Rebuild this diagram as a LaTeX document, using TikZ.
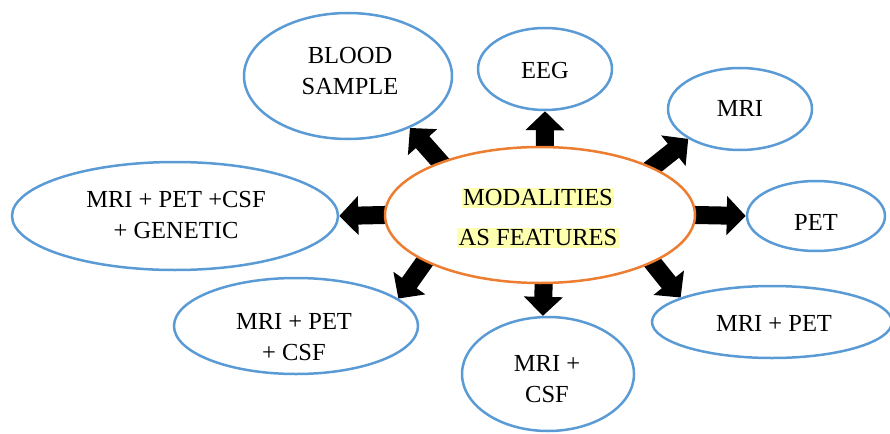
\documentclass[tikz,border=0pt]{standalone}
\usepackage{fontspec}
\setmainfont{Liberation Serif}
\usetikzlibrary{shapes.geometric,arrows.meta,backgrounds}
\definecolor{bblue}{HTML}{5B9BD5}
\definecolor{borange}{HTML}{ED7D31}
\definecolor{glow}{HTML}{FFFFB0}
\newcommand\glowtext[1]{{\setlength{\fboxsep}{1.5pt}\colorbox{glow}{#1}}}
\begin{document}
\begin{tikzpicture}[x=1pt,y=-1pt,
  bub/.style={ellipse,draw=bblue,line width=2.5pt,fill=white,inner sep=0pt},
  hub/.style={ellipse,draw=borange,line width=2.5pt,fill=white,inner sep=0pt},
  lbl/.style={align=center,inner sep=0pt,font=\fontsize{24.5}{31}\selectfont},
  blk/.style={line width=18pt,-{Triangle[width=38pt 0 0,length=19pt 0 0]},shorten <=-12pt}]
\useasboundingbox (0,0) rectangle (890,433);

% ellipses
\node[hub,minimum width=310pt,minimum height=136pt] (c) at (540,215) {};
\node[bub,minimum width=208pt,minimum height=126pt] (blood) at (348,76) {};
\node[bub,minimum width=134pt,minimum height=82pt] (eeg) at (545,69) {};
\node[bub,minimum width=144pt,minimum height=82pt] (mri) at (740,109) {};
\node[bub,minimum width=138pt,minimum height=70pt] (pet) at (816,216) {};
\node[bub,minimum width=240pt,minimum height=72pt] (mp) at (772,322) {};
\node[bub,minimum width=172pt,minimum height=114pt] (mc) at (548,374) {};
\node[bub,minimum width=244pt,minimum height=96pt] (mpc) at (296,326) {};
\node[bub,minimum width=326pt,minimum height=108pt] (mpcg) at (175,216) {};

% texts
\node[lbl,font=\fontsize{24.5}{40}\selectfont] (ct) at (538,218) {\glowtext{MODALITIES}\\\glowtext{AS FEATURES}};
\node[lbl] (bloodt) at (350,71) {BLOOD\\SAMPLE};
\node[lbl] (eegt) at (545,71) {EEG};
\node[lbl] (mrit) at (740,108) {MRI};
\node[lbl] (pett) at (816,222) {PET};
\node[lbl] (mpt) at (774,323) {MRI + PET};
\node[lbl] (mct) at (547,379) {MRI +\\CSF};
\node[lbl] (mpct) at (294,337) {MRI + PET\\+ CSF};
\node[lbl] (mpcgt) at (176,215) {MRI + PET +CSF\\+ GENETIC};

% block arrows
\begin{scope}[on background layer]
\draw[blk] (c.152) -- (blood.-40);
\draw[blk] (c.86) -- (eeg.-90);
\draw[blk] (c.23) -- (mri.210);
\draw[blk] (c.0) -- (pet.180);
\draw[blk] (c.-23.6) -- (mp.165.7);
\draw[blk] (c.-87.5) -- (mc.95);
\draw[blk] (c.202.3) -- (mpc.15.5);
\draw[blk] (c.180) -- (mpcg.0);
\end{scope}
\end{tikzpicture}
\end{document}
